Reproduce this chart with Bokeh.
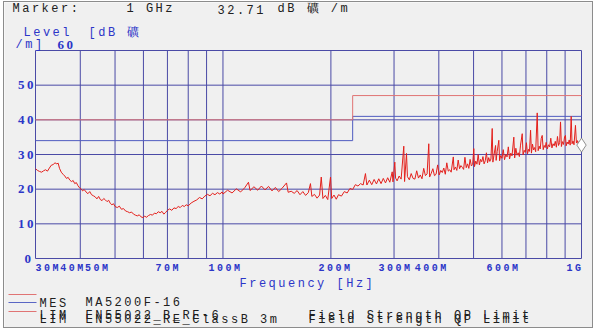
import math
from bokeh.plotting import figure
from bokeh.models import Label, Range1d, Arrow
from bokeh.embed import file_html
from bokeh.resources import INLINE

# ---------------- data ----------------
freq_mhz = [
    30, 30.4, 30.8, 31.2, 31.6, 32.0, 32.4, 32.8, 33.2, 33.6, 34.0, 34.4, 34.7, 35.0, 35.4, 35.8,
    36.2, 36.6, 37.0, 37.4, 37.8, 38.2, 38.6, 39.0, 39.4, 39.8, 40.2, 40.6, 41.0, 41.5, 42.0, 42.5,
    43.0, 43.5, 44.0, 44.5, 45.0, 45.5, 46.0, 46.5, 47.0, 47.5, 48.0, 48.5, 49.0, 49.5, 50.0, 50.7,
    51.4, 52.1, 52.8, 53.5, 54.2, 54.9, 55.6, 56.3, 57.0, 57.7, 58.4, 59.1, 59.8, 60.5, 61.2, 62.0,
    62.8, 63.6, 64.4, 65.2, 66.0, 66.8, 67.6, 68.4, 69.2, 70.0, 71, 72, 73, 74, 75, 76, 77, 78, 79,
    80, 81.5, 83, 84.5, 86, 87.5, 89, 90.5, 92, 93.5, 95, 96.5, 98, 99.5,
    100, 103, 106, 109, 112, 115, 117.8, 119, 122, 125, 128, 131, 134, 137, 140, 143, 146, 150.4,
    152, 155, 158, 161, 164, 167, 170, 173, 175.4, 177, 180, 183, 186, 188, 190, 193, 196, 199.5,
    201, 204, 207, 210, 214, 218, 222, 226, 230, 234, 238, 242, 246, 249.7, 252, 256, 260, 264,
    268, 272, 276, 280, 284, 288, 292, 296.5, 298, 301.5, 303,
    306, 310, 314, 319.4, 321, 325, 327, 331, 335, 339, 343, 347, 351, 355, 359, 363, 367, 371,
    375, 377, 381, 385, 389, 393, 397, 401, 405, 409, 413, 417, 421, 425, 429, 433, 439, 441, 445,
    449, 453, 457, 461, 465, 469, 473, 477, 481, 485, 489, 493, 497, 500.7, 503, 507, 511, 515,
    519, 523, 527, 531, 535, 539, 543, 547, 551, 555, 559, 563.6, 566, 570, 575.8, 578, 582, 588,
    591, 595, 600, 605, 610, 615, 620, 625, 630, 635, 640, 647.5, 651, 656, 661, 666, 671, 676,
    683.4, 687, 692, 697, 702, 707, 712, 716, 721, 725, 730, 735, 740, 745, 752.5, 757, 762, 767,
    772, 777, 782, 787, 792, 797, 803, 809, 815, 821, 827, 833, 839, 845, 851, 857, 863, 869, 874,
    879, 885, 891, 897, 902, 906, 912, 918, 924, 930, 936, 941, 947, 953, 962, 968, 974, 980, 986,
    992, 997, 1000,
]
level_db = [
    25.9, 25.4, 25.1, 24.9, 25.3, 25.6, 25.2, 26.1, 26.9, 27.1, 27.6, 27.3, 27.5, 26.0, 24.9, 24.3,
    23.8, 23.1, 23.4, 22.6, 22.2, 22.5, 21.6, 21.9, 21.0, 20.4, 20.1, 19.5, 19.9, 19.2, 18.7, 19.3,
    18.4, 18.1, 17.8, 17.2, 17.9, 17.0, 16.7, 17.3, 16.9, 16.4, 16.8, 15.9, 15.5, 15.8, 15.0, 14.7,
    15.1, 14.2, 14.4, 13.7, 13.5, 13.2, 13.4, 12.8, 12.5, 12.3, 12.6, 12.0, 11.8, 12.2, 11.9, 12.4,
    12.7, 12.5, 13.1, 12.9, 13.5, 13.2, 13.6, 12.8, 13.3, 13.9, 14.3, 13.9, 14.6, 14.4, 15.0, 14.7,
    15.3, 15.0, 15.5, 15.2, 16.0, 16.5, 16.9, 17.6, 17.2, 18.0, 18.5, 18.1, 18.8, 18.4, 19.0, 18.6,
    19.2,
    18.6, 19.7, 18.9, 20.1, 19.2, 20.4, 22.0, 19.6, 20.7, 19.7, 20.9, 19.8, 20.8, 19.5, 20.5, 19.3,
    20.2, 21.8, 19.1, 19.4, 18.8, 19.6, 18.4, 19.3, 18.2, 19.0, 21.6, 17.9, 18.5, 17.4, 18.3, 23.5,
    17.3, 18.2, 17.0, 23.5, 17.3, 18.3, 17.1, 18.4, 18.0, 19.3, 18.9, 20.2, 19.9, 21.3, 20.9, 21.6,
    21.2, 24.5, 21.2, 22.6, 21.3, 22.8, 21.5, 23.0, 21.6, 23.1, 21.8, 23.3, 22.0, 25.0, 22.1, 27.8,
    23.2,
    22.4, 23.8, 22.9, 32.4, 22.2, 30.3, 23.6, 22.7, 24.5, 23.1, 22.9, 25.3, 23.2, 24.1, 23.0, 26.0,
    23.9, 24.4,
    33.1, 23.5, 24.6, 25.9, 23.9, 24.3, 27.0, 24.1, 25.4, 24.8, 26.1, 24.3, 27.6, 25.2, 25.6, 24.9,
    29.3, 25.6, 26.4,
    25.4, 28.4, 25.9, 26.8, 26.3, 25.7, 29.2, 26.2, 27.3, 26.0, 28.6, 26.7, 27.1, 31.7, 26.5, 28.1,
    27.2, 30.0,
    27.0, 28.6, 27.9, 29.4, 27.3, 28.2, 30.5, 27.6, 29.1, 28.0, 28.7, 37.5, 27.8, 29.8, 32.6, 28.3,
    30.9, 34.1,
    28.2, 29.7, 28.9, 31.4, 28.5, 30.0, 29.3, 32.2, 28.7, 30.4, 29.6, 35.0, 29.0, 31.8, 29.8, 30.5,
    29.4, 32.7,
    36.0, 29.9, 31.2, 30.6, 33.4, 30.2, 31.5, 30.9, 37.0, 30.4, 33.0, 31.3, 32.0, 30.8, 42.0, 31.1,
    32.4, 31.6,
    34.6, 35.5, 31.4, 32.6, 32.0, 33.5, 31.6, 32.8, 32.2, 34.7, 31.9, 33.1, 32.5, 33.8, 32.1, 35.2,
    32.6, 33.4, 39.4,
    32.3, 33.7, 32.9, 35.1, 35.5, 32.5, 33.6, 33.0, 34.2, 32.7, 41.0, 33.1, 33.9, 32.8, 38.4, 33.3,
    34.0, 32.9, 33.8,
    33.2, 34.1, 32.7,
]
limit_freq = [30, 230, 230, 1000]
limit_3m_db = [40, 40, 47, 47]
limit_b6_db = [34, 34, 41, 41]
marker_freq = [1000]
marker_db = [32.71]
x_grid = [30, 40, 50, 60, 70, 80, 90, 100, 200, 300, 400, 500, 600, 700, 800, 900, 1000]
y_grid = [0, 10, 20, 30, 40, 50, 60]
x_ticks = [30, 40, 50, 70, 100, 200, 300, 400, 600, 1000]
x_tick_labels = ["30M", "40M", "50M", "70M", "100M", "200M", "300M", "400M", "600M", "1G"]
x_tick_shift = [0, -20, -30, -12, -14.5, -12.5, -15.5, -24, -15.5, -15]
y_ticks = [0, 10, 20, 30, 40, 50]
y_tick_labels = ["0", "10", "20", "30", "40", "50"]

# ---------------- layout / style ----------------
BG = "#f0f0f0"
GRID = "#4a4aa6"
BLUE_TXT = "#2c36c8"
MONO = "Liberation Mono"
SERIF = "Liberation Serif"
OX, OY = 4, 2            # canvas offset inside the window
W, H = 588, 325          # canvas size
FL, FR, FT, FB = 31, 577, 48, 256   # plot area inside canvas (pixels)

X0, X1 = 30.0, 1000.0
Y0, Y1 = 0.0, 60.0
dec_px = math.log10(X1 / X0) / (FR - FL)
db_px = (Y1 - Y0) / (FB - FT)
xr = Range1d(X0 * 10 ** (-FL * dec_px), X1 * 10 ** ((W - FR) * dec_px))
yr = Range1d(Y0 - (H - FB) * db_px, Y1 + FT * db_px)

p = figure(width=W, height=H, x_axis_type="log", x_range=xr, y_range=yr,
           x_axis_location=None, y_axis_location=None,
           toolbar_location=None, output_backend="svg",
           min_border=0, min_border_left=0, min_border_right=0, min_border_top=0, min_border_bottom=0,
           background_fill_color=BG, border_fill_color=BG, outline_line_color=None,
           margin=(OY, 0, 0, OX),
           styles={"outline": "1px solid #8c8c8c", "letter-spacing": "2.5px"})
p.xgrid.visible = False
p.ygrid.visible = False

# grid
p.segment(x0=x_grid, y0=[Y0] * len(x_grid), x1=x_grid, y1=[Y1] * len(x_grid),
          line_color=GRID, line_width=1)
p.segment(x0=[X0] * len(y_grid), y0=y_grid, x1=[X1] * len(y_grid), y1=y_grid,
          line_color=GRID, line_width=1)

p.line(limit_freq, limit_b6_db, line_color="#4f5cc0", line_width=1)
p.line(limit_freq, limit_3m_db, line_color="#e07474", line_width=1)
p.line(freq_mhz, level_db, line_color="#e3201c", line_width=1)
p.scatter(marker_freq, marker_db, marker="diamond", size=14, fill_color="white",
          line_color="#909090")


def lab(text, x, y, color="#202020", font=MONO, size="12px", style="normal", align="left",
        xu="canvas", yu="canvas", dx=0, baseline="middle"):
    p.add_layout(Label(text=text, x=x, y=y, x_units=xu, y_units=yu, x_offset=dx,
                       text_color=color, text_font=font, text_font_size=size,
                       text_font_style=style, text_align=align, text_baseline=baseline))


# header
lab("Marker:", 12 - OX, 8.5 - OY)
lab("1 GHz", 126 - OX, 8.5 - OY)
lab("32.71", 217 - OX, 8.5 - OY)
lab("dB 礦 /m", 277 - OX, 8.5 - OY)
# y title
lab("Level", 23 - OX, 32 - OY, color=BLUE_TXT)
lab("[dB 礦", 88 - OX, 32 - OY, color=BLUE_TXT)
lab("/m]", 15 - OX, 44 - OY, color=BLUE_TXT)
lab("60", 57 - OX, 44 - OY, color=BLUE_TXT, font=SERIF, size="13px", style="bold")

# y tick labels
for v, t in zip(y_ticks, y_tick_labels):
    lab(t, X0, v, color=BLUE_TXT, font=SERIF, size="13px", style="bold", align="right",
        xu="data", yu="data", dx=-4.5, baseline="alphabetic")
# x tick labels (left edge placed relative to each tick)
for v, t, s in zip(x_ticks, x_tick_labels, x_tick_shift):
    lab(t, v, 268 - OY, color=BLUE_TXT, font=MONO, size="10px", style="bold", align="left",
        xu="data", dx=s)

lab("Frequency [Hz]", 239 - OX, 283 - OY, color=BLUE_TXT)

# legend
for yy, col in [(294, "#e07474"), (302, "#5a66c4"), (311, "#e07474")]:
    p.add_layout(Arrow(start=None, end=None, x_start=8 - OX, y_start=yy - OY, x_end=36 - OX,
                       y_end=yy - OY, start_units="canvas", end_units="canvas",
                       line_color=col, line_width=1))
lab("MES", 39 - OX, 303 - OY)
lab("MA5200F-16", 85 - OX, 302 - OY)
lab("LIM", 39 - OX, 315 - OY)
lab("EN55022_B_RE-6", 85 - OX, 315 - OY)
lab("Field Strength QP Limit", 308 - OX, 315 - OY)
lab("LIM", 39 - OX, 319 - OY)
lab("EN55022_RE_ClassB 3m", 85 - OX, 319 - OY)
lab("Field Strength QP Limit", 308 - OX, 319 - OY)

open("out.html", "w").write(file_html(p, INLINE))
